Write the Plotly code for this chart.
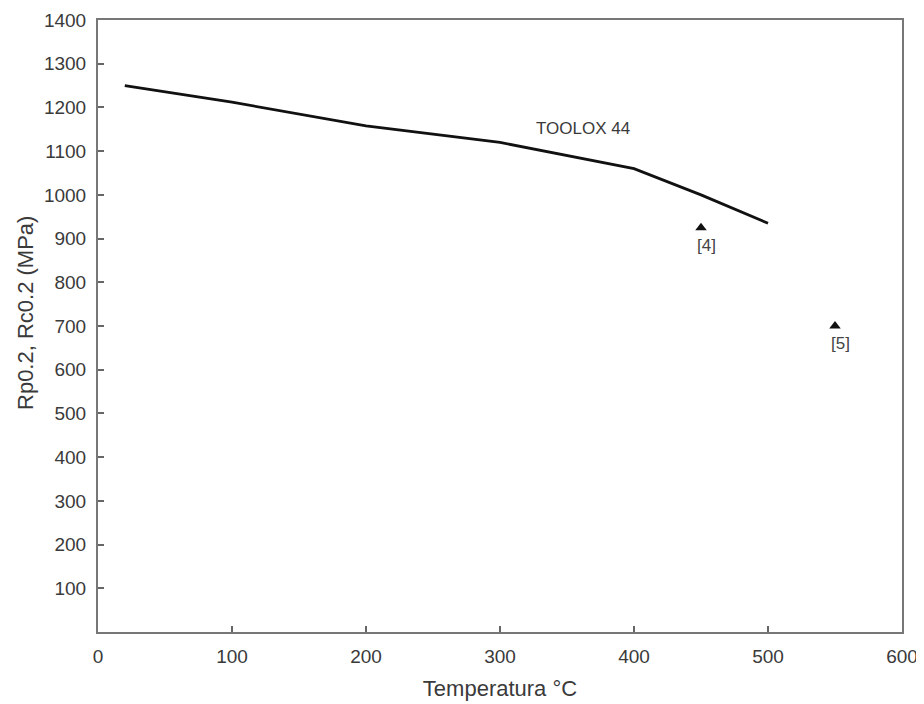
import plotly.graph_objects as go

temp = [20, 100, 200, 300, 400, 450, 500]
strength = [1250, 1212, 1158, 1120, 1060, 1000, 935]
pt_x = [450, 550]
pt_y = [925, 700]
pt_labels = ["[4]", "[5]"]
series_label = "TOOLOX 44"
x_title = "Temperatura °C"
y_title = "Rp0.2, Rc0.2 (MPa)"
ytick_vals = list(range(100, 1500, 100))
xtick_vals = [0, 100, 200, 300, 400, 500, 600]

FONT = "Liberation Sans"
TXT = "#3a3a3a"

fig = go.Figure()
fig.add_trace(go.Scatter(x=temp, y=strength, mode="lines",
                         line=dict(color="#111111", width=2.8), showlegend=False))
fig.add_trace(go.Scatter(x=pt_x, y=pt_y, mode="markers",
                         marker=dict(symbol="triangle-up", size=10, color="#111111"),
                         showlegend=False))
for px, py, lab in zip(pt_x, pt_y, pt_labels):
    fig.add_annotation(x=px, y=py, text=lab, showarrow=False,
                       xanchor="left", yanchor="top", xshift=-6, yshift=-6,
                       font=dict(size=17, color="#444444", family=FONT))
fig.add_annotation(x=362, y=1151, text=series_label, showarrow=False,
                   font=dict(size=17, color=TXT, family=FONT))
fig.add_annotation(xref="paper", yref="paper", x=-0.091, y=0.521, text=y_title,
                   textangle=-90, showarrow=False, xanchor="center", yanchor="middle",
                   font=dict(size=22, color=TXT, family=FONT))

fig.update_layout(
    width=924, height=704,
    margin=dict(l=90, r=30, t=12, b=80),
    paper_bgcolor="white", plot_bgcolor="white",
    font=dict(family=FONT, size=19, color=TXT),
)
fig.update_xaxes(range=[0, 600], tickvals=xtick_vals, ticks="inside", ticklen=6,
                 tickcolor="#666666", tickwidth=1.5, showline=True, linecolor="#777777",
                 linewidth=2, mirror=True, showgrid=False, zeroline=False,
                 ticklabelstandoff=6, automargin=False,
                 title=dict(text=x_title, font=dict(size=22), standoff=15))
fig.update_yaxes(range=[0, 1400], tickvals=ytick_vals, ticks="inside", ticklen=6,
                 tickcolor="#666666", tickwidth=1.5, showline=True, linecolor="#777777",
                 linewidth=2, mirror=True, showgrid=False, zeroline=False,
                 ticklabelstandoff=6, automargin=False)

fig.write_html("out.html")
